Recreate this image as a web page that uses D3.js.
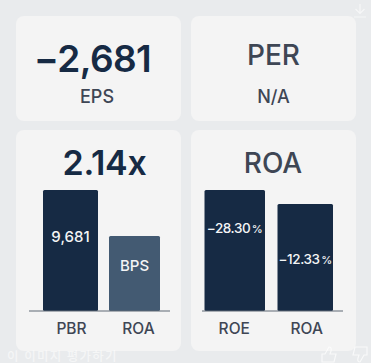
<!DOCTYPE html>
<html>
<head>
<meta charset="utf-8">
<script src="https://cdn.jsdelivr.net/npm/d3@7"></script>
<style>
  html, body { margin: 0; padding: 0; background: #e9ebed; overflow: hidden; }
  svg { display: block; font-family: Inter, "Noto Sans CJK KR", sans-serif; }
</style>
</head>
<body>
<svg id="chart" width="371" height="363"></svg>
<script>
// values
const statHeadlines = ['\u22122,681', 'PER'];
const statLabels = ['EPS', 'N/A'];

const pbrTitle = '2.14x';
const pbrCategories = ['PBR', 'ROA'];
const pbrBarLabels = ['9,681', 'BPS'];
const pbrBarLevels = [100, 62];

const roaTitle = 'ROA';
const roaCategories = ['ROE', 'ROA'];
const roaBarLabels = ['\u221228.30', '\u221212.33'];
const roaBarLevels = [100, 88.5];

const navy = '#162a44';
const slate = '#435a72';
const grey = '#3e4654';

const svg = d3.select('#chart');

// cards
const cards = [[16, 16, 165, 105], [191, 16, 165, 105], [16, 130, 165, 221], [191, 130, 165, 221]];
svg.selectAll('rect.card')
  .data(cards)
  .enter()
  .append('rect')
  .attr('class', 'card')
  .attr('x', d => d[0])
  .attr('y', d => d[1])
  .attr('width', d => d[2])
  .attr('height', d => d[3])
  .attr('rx', 8)
  .attr('fill', '#f4f4f4');

// top two cards
const topX = d3.scalePoint().domain(statLabels).range([97, 273.5]);
svg.selectAll('text.headline')
  .data(statHeadlines)
  .enter()
  .append('text')
  .attr('class', 'headline')
  .attr('x', (d, i) => i === 0 ? 92.5 : topX(statLabels[i]))
  .attr('y', (d, i) => i === 0 ? 72 : 65)
  .attr('text-anchor', 'middle')
  .attr('font-size', (d, i) => i === 0 ? 37 : 28)
  .attr('font-weight', (d, i) => i === 0 ? 600 : 500)
  .attr('letter-spacing', (d, i) => i === 0 ? -0.6 : 0)
  .attr('fill', (d, i) => i === 0 ? navy : grey)
  .text(d => d);

svg.selectAll('text.statlabel')
  .data(statLabels)
  .enter()
  .append('text')
  .attr('class', 'statlabel')
  .attr('x', d => topX(d))
  .attr('y', 103)
  .attr('text-anchor', 'middle')
  .attr('font-size', 18)
  .attr('font-weight', 500)
  .attr('fill', grey)
  .text(d => d);

// one bar panel
function drawPanel(opt) {
  const g = svg.append('g');
  const y = d3.scaleLinear().domain([0, 100]).range([311, 190]);
  const x = d3.scalePoint().domain(opt.categories).range(opt.centers);

  g.append('text')
    .attr('x', opt.titleX)
    .attr('y', opt.titleY)
    .attr('text-anchor', 'middle')
    .attr('font-size', opt.titleSize)
    .attr('font-weight', opt.titleWeight)
    .attr('letter-spacing', opt.titleSpacing)
    .attr('fill', opt.titleColor)
    .text(opt.title);

  g.selectAll('rect.bar')
    .data(opt.levels)
    .enter()
    .append('rect')
    .attr('class', 'bar')
    .attr('x', (d, i) => x(opt.categories[i]) - opt.widths[i] / 2)
    .attr('y', d => y(d))
    .attr('width', (d, i) => opt.widths[i])
    .attr('height', d => y(0) - y(d))
    .attr('rx', 1.5)
    .attr('fill', (d, i) => opt.colors[i]);

  const labels = g.selectAll('text.barlabel')
    .data(opt.labels)
    .enter()
    .append('text')
    .attr('class', 'barlabel')
    .attr('x', (d, i) => x(opt.categories[i]))
    .attr('y', (d, i) => opt.labelY[i])
    .attr('text-anchor', 'middle')
    .attr('font-size', opt.labelSize)
    .attr('font-weight', 500)
    .attr('letter-spacing', opt.labelSpacing)
    .attr('fill', '#f4f5f6')
    .text(d => d);

  // the percent sign sits apart and smaller
  if (opt.unit) {
    labels.append('tspan')
      .attr('dx', 1.5)
      .attr('font-size', 11)
      .attr('letter-spacing', 0)
      .text(opt.unit);
  }

  g.append('line')
    .attr('x1', opt.axis[0])
    .attr('x2', opt.axis[1])
    .attr('y1', y(0))
    .attr('y2', y(0))
    .attr('stroke', '#5f6875')
    .attr('stroke-width', 1);

  const axis = d3.axisBottom(x).tickSize(0).tickPadding(0);
  const ax = g.append('g')
    .attr('transform', `translate(0,${y(0)})`)
    .call(axis);
  ax.select('.domain').remove();
  ax.selectAll('text')
    .attr('x', (d, i) => opt.tickShift[i])
    .attr('y', 23)
    .attr('dy', 0)
    .attr('font-family', 'Inter, sans-serif')
    .attr('font-size', 15.5)
    .attr('font-weight', 500)
    .attr('fill', grey);
}

drawPanel({
  title: pbrTitle,
  titleX: 104.5,
  titleY: 175,
  titleSize: 34,
  titleWeight: 600,
  titleSpacing: -0.3,
  titleColor: navy,
  categories: pbrCategories,
  labels: pbrBarLabels,
  levels: pbrBarLevels,
  centers: [70.5, 134.5],
  widths: [55, 51],
  colors: [navy, slate],
  labelY: [242, 271],
  labelSize: 15,
  labelSpacing: 0,
  tickShift: [0.5, 3.5],
  axis: [29, 170]
});

drawPanel({
  title: roaTitle,
  titleX: 273,
  titleY: 173,
  titleSize: 28,
  titleWeight: 500,
  titleSpacing: 0,
  titleColor: grey,
  categories: roaCategories,
  labels: roaBarLabels,
  levels: roaBarLevels,
  unit: '%',
  centers: [234.75, 305.25],
  widths: [60.5, 55.5],
  colors: [navy, navy],
  labelY: [233, 264],
  labelSize: 13.5,
  labelSpacing: -0.4,
  tickShift: [-1, 1],
  axis: [202, 343]
});

// faint page overlays
const overlay = svg.append('g').attr('fill', '#ffffff').attr('stroke', '#ffffff');

overlay.append('text')
  .attr('x', 7)
  .attr('y', 360.5)
  .attr('stroke', 'none')
  .attr('font-size', 12.5)
  .attr('font-weight', 500)
  .attr('letter-spacing', 1.2)
  .attr('opacity', 0.55)
  .text('이 이미지 평가하기');

// download arrow
overlay.append('path')
  .attr('d', 'M360 4V13M355.5 9L360 13.5L364.5 9M354 17H366')
  .attr('fill', 'none')
  .attr('stroke-width', 1.2)
  .attr('opacity', 0.6);

// thumbs
overlay.append('path')
  .attr('d', 'M322 362V354H325L329 347Q332 347 331 351L330 354H336L334 362Z')
  .attr('fill', 'none')
  .attr('stroke-width', 1.2)
  .attr('opacity', 0.7);
overlay.append('path')
  .attr('d', 'M367 347V355H364L360 362Q357 362 358 358L359 355H353L355 347Z')
  .attr('fill', 'none')
  .attr('stroke-width', 1.2)
  .attr('opacity', 0.7);
</script>
</body>
</html>
